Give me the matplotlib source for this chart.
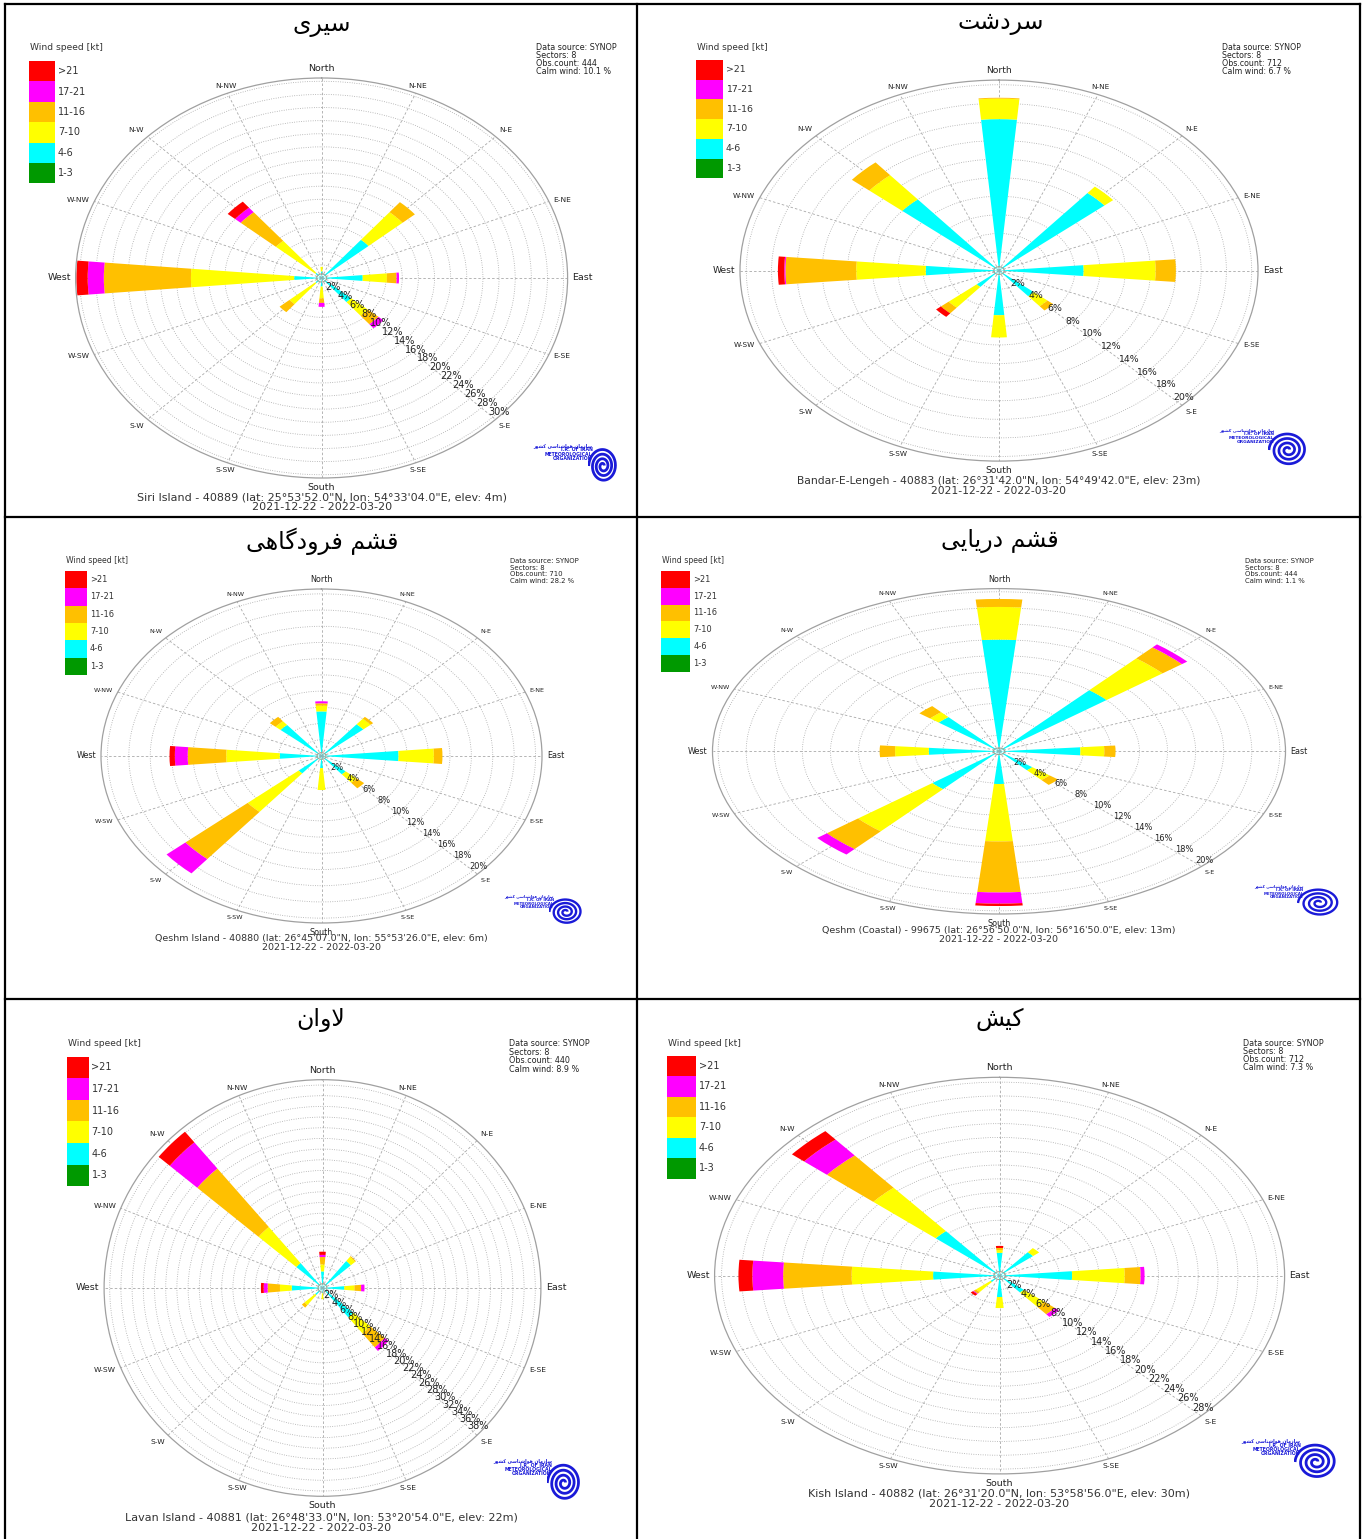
import numpy as np
import matplotlib.pyplot as plt
from matplotlib.patches import Rectangle
from matplotlib.lines import Line2D

plt.rcParams['font.family'] = ['DejaVu Sans']

W, H = 1363, 1539

# ---------------- data ----------------
DIRS = ['N', 'NE', 'E', 'SE', 'S', 'SW', 'W', 'NW']
DIR_DEG = [0, 45, 90, 135, 180, 225, 270, 315]
SPEED_BINS = ['1-3', '4-6', '7-10', '11-16', '17-21', '>21']
BIN_COLORS = ['#009900', '#00ffff', '#ffff00', '#ffc000', '#ff00ff', '#ff0000']
DIR_LABELS = ['North', 'N-NE', 'N-E', 'E-NE', 'East', 'E-SE', 'S-E', 'S-SE',
              'South', 'S-SW', 'S-W', 'W-SW', 'West', 'W-NW', 'N-W', 'N-NW']

TITLES = ['سیری', 'سردشت', 'قشم فرودگاهی', 'قشم دریایی', 'لاوان', 'کیش']
STATIONS = [
    'Siri Island - 40889 (lat: 25°53\'52.0"N, lon: 54°33\'04.0"E, elev: 4m)',
    'Bandar-E-Lengeh - 40883 (lat: 26°31\'42.0"N, lon: 54°49\'42.0"E, elev: 23m)',
    'Qeshm Island - 40880 (lat: 26°45\'07.0"N, lon: 55°53\'26.0"E, elev: 6m)',
    'Qeshm (Coastal) - 99675 (lat: 26°56\'50.0"N, lon: 56°16\'50.0"E, elev: 13m)',
    'Lavan Island - 40881 (lat: 26°48\'33.0"N, lon: 53°20\'54.0"E, elev: 22m)',
    'Kish Island - 40882 (lat: 26°31\'20.0"N, lon: 53°58\'56.0"E, elev: 30m)',
]
PERIOD = '2021-12-22 - 2022-03-20'
OBS_COUNT = [444, 712, 710, 444, 440, 712]
CALM_PCT = [10.1, 6.7, 28.2, 1.1, 8.9, 7.3]
RING_MAX = [30, 20, 20, 20, 38, 28]          # last labelled ring (%)
AXIS_MAX = [30.5, 20.5, 20.6, 20.4, 39.0, 28.7]

# frequency (%) per direction (rows N..NW) and speed bin (cols 1-3 .. >21)
siri = [[0, 1.0, 0.7, 0, 0, 0],
        [0, 7.6, 5.5, 2.0, 0, 0],
        [0, 5.1, 3.0, 1.2, 0.3, 0],
        [0, 4.8, 2.7, 1.7, 0.8, 0],
        [0, 1.3, 1.8, 0.7, 0.6, 0],
        [0, 1.0, 4.2, 1.6, 0, 0],
        [0, 3.4, 12.8, 10.8, 2.0, 1.4],
        [0, 1.0, 6.4, 5.7, 0.9, 1.2]]
sardasht = [[0, 16.3, 2.2, 0.1, 0, 0],
            [0, 10.9, 0.9, 0, 0, 0],
            [0, 6.7, 5.7, 1.6, 0, 0],
            [0, 3.6, 1.4, 0.6, 0, 0],
            [0, 4.8, 2.4, 0, 0, 0],
            [0, 2.3, 2.9, 0.8, 0, 0.5],
            [0, 5.8, 5.5, 5.6, 0.1, 0.5],
            [0, 10.0, 3.4, 1.8, 0, 0]]
qeshm_airport = [[0, 5.5, 0.7, 0.3, 0.25, 0],
                 [0, 5.1, 0.9, 0.3, 0, 0],
                 [0, 7.2, 3.3, 0.8, 0, 0],
                 [0, 2.95, 1.35, 0.9, 0, 0],
                 [0, 1.5, 2.7, 0, 0, 0],
                 [0, 2.8, 6.2, 7.6, 2.3, 0],
                 [0, 3.9, 5.0, 3.6, 1.2, 0.5],
                 [0, 5.0, 0.6, 0.7, 0, 0]]
qeshm_coastal = [[0, 14.0, 4.1, 1.0, 0, 0],
                 [0, 10.0, 5.2, 1.8, 0.5, 0],
                 [0, 5.8, 1.7, 0.8, 0, 0],
                 [0, 3.1, 1.6, 0.8, 0, 0],
                 [0, 4.1, 7.2, 6.4, 1.4, 0.3],
                 [0, 6.2, 6.9, 2.9, 0.9, 0],
                 [0, 5.0, 2.4, 1.1, 0, 0],
                 [0, 5.6, 0.8, 1.0, 0, 0]]
lavan = [[0, 3.1, 1.3, 1.4, 0.4, 0.6],
         [0, 6.6, 1.0, 0.2, 0, 0],
         [0, 3.9, 1.8, 1.2, 0.6, 0],
         [0, 7.2, 3.9, 3.4, 0.9, 0],
         [0, 1.0, 1.1, 0, 0, 0],
         [0, 1.7, 2.5, 0.6, 0, 0],
         [0, 5.5, 2.1, 2.2, 0.7, 0.5],
         [0, 6.1, 8.8, 14.3, 6.4, 2.6]]
kish = [[0, 3.3, 0.4, 0.3, 0, 0.3],
        [0, 4.4, 0.8, 0, 0, 0],
        [0, 7.3, 5.3, 1.6, 0.4, 0],
        [0, 3.2, 2.7, 1.4, 0.5, 0],
        [0, 3.1, 1.6, 0, 0, 0],
        [0, 1.2, 1.9, 0.3, 0.1, 0.3],
        [0, 6.7, 8.2, 6.9, 3.1, 1.4],
        [0, 8.4, 8.2, 6.1, 3.0, 1.6]]
FREQ = [siri, sardasht, qeshm_airport, qeshm_coastal, lavan, kish]

# ---------------- layout (pixels) ----------------
ROSE_BOX = [(321.6, 278, 246, 200), (999, 270.6, 259, 190.5),
            (321.5, 756, 220.5, 167), (999, 751.3, 286.5, 162.7),
            (322.5, 1288, 218.4, 208.3), (999.6, 1275.6, 285, 198.3)]
TITLE_XY = [(322, 25), (1001, 23), (322, 541), (1000, 541), (321, 1020), (1000, 1019)]
LEGEND_BOX = [(29, 61, 26, 20.4, 48), (696, 60, 27, 19.7, 48),
              (64.5, 571, 22.5, 17.3, 561), (661, 571, 29.5, 16.8, 561),
              (66.5, 1056.6, 22, 21.6, 1043.5), (667, 1055.6, 29, 20.5, 1043)]
INFO_XY = [(536, 48, 8), (1222, 48, 7.7), (510, 561, 6.7), (1245, 561, 6.5),
           (509, 1044, 8.4), (1243, 1043.5, 8)]
FOOTER_XY = [(321.6, 497, 10), (999, 481, 9.5), (321, 939, 8.7), (999, 930.7, 8.5),
             (321, 1517, 11), (999, 1493.5, 10.5)]
LOGO_BOX = [(603, 466, 30, 37), (1288, 450, 40, 36), (566, 912, 35, 28),
            (1319, 903, 44, 30), (564, 1483, 35, 40), (1316, 1462, 44, 38)]
SCALE = [1.0, 0.97, 0.85, 0.85, 1.0, 1.0]

# Persian letters -> presentation forms (isolated, final, initial, medial)
FORMS = {
    'ا': ('\ufe8d', '\ufe8e', None, None),
    'د': ('\ufea9', '\ufeaa', None, None),
    'ر': ('\ufead', '\ufeae', None, None),
    'ز': ('\ufeaf', '\ufeb0', None, None),
    'و': ('\ufeed', '\ufeee', None, None),
    'ت': ('\ufe95', '\ufe96', '\ufe97', '\ufe98'),
    'س': ('\ufeb1', '\ufeb2', '\ufeb3', '\ufeb4'),
    'ش': ('\ufeb5', '\ufeb6', '\ufeb7', '\ufeb8'),
    'ف': ('\ufed1', '\ufed2', '\ufed3', '\ufed4'),
    'ق': ('\ufed5', '\ufed6', '\ufed7', '\ufed8'),
    'ل': ('\ufedd', '\ufede', '\ufedf', '\ufee0'),
    'م': ('\ufee1', '\ufee2', '\ufee3', '\ufee4'),
    'ن': ('\ufee5', '\ufee6', '\ufee7', '\ufee8'),
    'ه': ('\ufee9', '\ufeea', '\ufeeb', '\ufeec'),
    '\u06a9': ('\ufb8e', '\ufb8f', '\ufb90', '\ufb91'),
    '\u0643': ('\ufb8e', '\ufb8f', '\ufb90', '\ufb91'),
    'گ': ('\ufb92', '\ufb93', '\ufb94', '\ufb95'),
    '\u06cc': ('\ufbfc', '\ufbfd', '\ufbfe', '\ufbff'),
    '\u064a': ('\ufbfc', '\ufbfd', '\ufbfe', '\ufbff'),
}


def shape_fa(text):
    # matplotlib does no arabic shaping / bidi, so do it by hand
    out = []
    i = 0
    n = len(text)
    while i < n:
        c = text[i]
        if c not in FORMS:
            out.append(c)
            i += 1
            continue
        prev = text[i - 1] if i > 0 else ''
        link_prev = prev in FORMS and FORMS[prev][2] is not None and not (
            i >= 2 and text[i - 2] == 'ل' and prev == 'ا')
        if c == 'ل' and i + 1 < n and text[i + 1] == 'ا':
            out.append('\ufefc' if link_prev else '\ufefb')
            i += 2
            continue
        nxt = text[i + 1] if i + 1 < n else ''
        iso, fin, ini, med = FORMS[c]
        link_next = ini is not None and nxt in FORMS
        if link_prev and link_next:
            out.append(med)
        elif link_prev:
            out.append(fin)
        elif link_next:
            out.append(ini)
        else:
            out.append(iso)
        i += 1
    return ''.join(reversed(out))


def fx(x):
    return x / W


def fy(y):
    return 1 - y / H


fig = plt.figure(figsize=(W / 100, H / 100), dpi=100)
fig.patch.set_facecolor('white')

for k in range(6):
    cx, cy, rx, ry = ROSE_BOX[k]
    s = SCALE[k]
    rmax = AXIS_MAX[k]
    ax = fig.add_axes([fx(cx - rx), fy(cy + ry), 2 * rx / W, 2 * ry / H], projection='polar')
    ax.set_aspect('auto')
    ax.set_theta_zero_location('N')
    ax.set_theta_direction(-1)
    ax.set_axisbelow(True)

    freq = np.array(FREQ[k], dtype=float)
    theta = np.deg2rad(DIR_DEG)
    bottom = np.zeros(len(DIRS))
    for j in range(len(SPEED_BINS)):
        ax.bar(theta, freq[:, j], width=np.deg2rad(10), bottom=bottom,
               color=BIN_COLORS[j], linewidth=0, zorder=2)
        bottom += freq[:, j]

    rings = np.arange(2, RING_MAX[k] + 1, 2)
    ax.set_ylim(0, rmax)
    ax.set_yticks(rings)
    ax.set_yticklabels([])
    ax.set_xticks(np.deg2rad(np.arange(0, 360, 22.5)))
    ax.set_xticklabels([])
    ax.tick_params(length=0)
    ax.xaxis.grid(True, color='#a8a8a8', linestyle=(0, (3, 2.5)), linewidth=0.6)
    ax.yaxis.grid(True, color='#a8a8a8', linestyle=(0, (1, 1.8)), linewidth=0.6)
    ax.spines['polar'].set_color('#a0a0a0')
    ax.spines['polar'].set_linewidth(0.9)

    # calm circle
    tt = np.linspace(0, 2 * np.pi, 80)
    ax.plot(tt, np.full_like(tt, rmax * 0.02), color='#9aaa9a', lw=0.8, zorder=3)

    for r in rings:
        ax.text(np.deg2rad(133), r, '%d%%' % r, ha='center', va='center',
                fontsize=7.0 * s, color='#222222', zorder=5)

    for i, lab in enumerate(DIR_LABELS):
        a = np.deg2rad(i * 22.5)
        sn, cs = np.sin(a), np.cos(a)
        ha = 'left' if sn > 0.5 else ('right' if sn < -0.5 else 'center')
        va = 'bottom' if cs > 0.5 else ('top' if cs < -0.5 else 'center')
        big = i % 4 == 0
        ax.annotate(lab, xy=(a, rmax), xytext=(3.5 * sn, 3.5 * cs),
                    textcoords='offset points', ha=ha, va=va,
                    fontsize=(6.8 if big else 5.4) * s, color='#222222',
                    annotation_clip=False)

    # title
    tx, ty = TITLE_XY[k]
    fig.text(fx(tx), fy(ty), shape_fa(TITLES[k]), ha='center', va='center',
             fontsize=17, color='black')

    # legend
    lx, ly, bw, bh, hy = LEGEND_BOX[k]
    fig.text(fx(lx + 1), fy(hy), 'Wind speed [kt]', ha='left', va='center',
             fontsize=6.6 * s, color='#333333')
    for j, (lab, col) in enumerate(zip(SPEED_BINS[::-1], BIN_COLORS[::-1])):
        fig.add_artist(Rectangle((fx(lx), fy(ly + (j + 1) * bh)), bw / W, bh / H,
                                 transform=fig.transFigure, color=col, lw=0))
        fig.text(fx(lx + bw + 3), fy(ly + (j + 0.5) * bh), lab, ha='left', va='center',
                 fontsize=7.0 * s, color='#333333')

    # info block
    ix, iy, dy = INFO_XY[k]
    info = ['Data source: SYNOP', 'Sectors: 8', 'Obs.count: %d' % OBS_COUNT[k],
            'Calm wind: %.1f %%' % CALM_PCT[k]]
    for j, line in enumerate(info):
        fig.text(fx(ix), fy(iy + j * dy), line, ha='left', va='center',
                 fontsize=5.8 * s, color='#222222')

    # footer
    ox, oy, dy = FOOTER_XY[k]
    fig.text(fx(ox), fy(oy), STATIONS[k], ha='center', va='center',
             fontsize=8.0 * s, color='#333333')
    fig.text(fx(ox), fy(oy + dy), PERIOD, ha='center', va='center',
             fontsize=8.0 * s, color='#333333')

    # logo
    gx, gy, gw, gh = LOGO_BOX[k]
    axl = fig.add_axes([fx(gx - gw / 2), fy(gy + gh / 2), gw / W, gh / H])
    axl.axis('off')
    ts = np.linspace(0.3, 7.0 * np.pi, 400)
    rs = 0.08 + 0.92 * ts / ts.max()
    axl.plot(rs * np.cos(ts), rs * np.sin(ts), color='#1a1ad8', lw=2.0 * s,
             solid_capstyle='butt')
    axl.set_xlim(-1.05, 1.05)
    axl.set_ylim(-1.05, 1.05)
    logo_lines = [shape_fa('سازمان هواشناسی کشور'), 'I.R. OF IRAN',
                  'METEOROLOGICAL', 'ORGANIZATION']
    for j, line in enumerate(logo_lines):
        fig.text(fx(gx - gw * 0.35), fy(gy - gh * 0.55 + j * 4.2 * s), line,
                 ha='right', va='center', fontsize=3.3 * s, color='#1a1ad8',
                 fontweight='bold')

# table borders
for y in [4, 517, 999]:
    fig.add_artist(Line2D([fx(5), fx(1360)], [fy(y), fy(y)], transform=fig.transFigure,
                          color='black', lw=1.6))
for x in [5, 637, 1360]:
    fig.add_artist(Line2D([fx(x), fx(x)], [fy(4), fy(1539)], transform=fig.transFigure,
                          color='black', lw=1.6))

fig.savefig('out.png', dpi=100)
